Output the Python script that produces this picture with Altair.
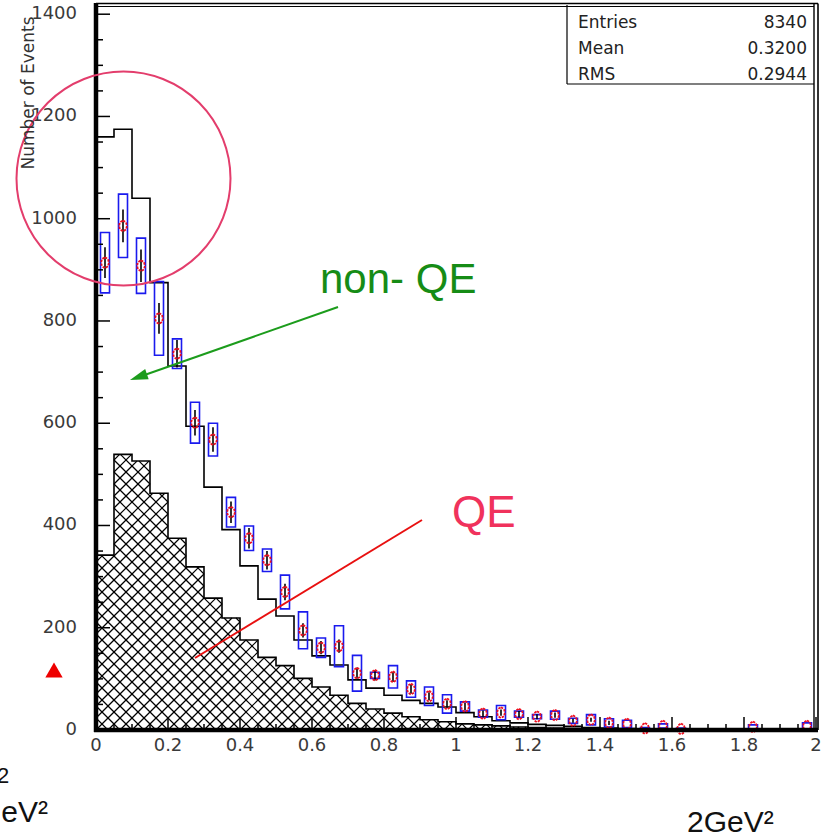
import altair as alt
import numpy as np
import pandas as pd

# ---------------------------------------------------------------------------
# Q^2 distribution, 40 bins of 0.05 GeV^2 between 0 and 2 GeV^2
# ---------------------------------------------------------------------------
BIN_W = 0.05
N_BINS = 40
edges = [round(BIN_W * k, 3) for k in range(N_BINS + 1)]
centers = [round(BIN_W * (k + 0.5), 3) for k in range(N_BINS)]

# Monte Carlo, all interactions (open black histogram)
mc_total = [1160, 1175, 1040, 875, 712, 594, 475, 392, 321, 256,
            223, 176, 145, 127, 98, 82, 68, 58, 52, 45,
            34, 26, 18, 14, 11, 9, 7, 5, 4, 3,
            2, 2, 1, 1, 1, 1, 0, 0, 0, 0]

# Monte Carlo, quasi-elastic part (hatched histogram)
mc_qe = [342, 539, 526, 463, 375, 319, 258, 219, 176, 142,
         126, 101, 84, 68, 52, 41, 33, 26, 20, 16,
         12, 10, 8, 6, 5, 4, 3, 2, 2, 1,
         1, 1, 0, 0, 0, 0, 0, 0, 0, 0]

# Measured events, statistical and systematic half-widths
data_val = [914, 986, 908, 805, 736, 601, 568, 426, 375, 332,
            270, 195, 161, 164, 111, 107, 104, 80, 66, 51,
            46, 32, 34, 31, 26, 29, 18, 20, 14, 12,
            3, 8, 2, 0, 0, 0, 6, 0, 0, 8]
data_stat = [30, 32, 32, 30, 27, 25, 24, 21, 20, 18,
             16, 14, 13, 13, 11, 10, 10, 9, 8, 7,
             7, 6, 6, 6, 5, 5, 4, 4, 4, 0,
             0, 0, 0, 0, 0, 0, 0, 0, 0, 0]
data_syst = [59, 62, 54, 72, 29, 40, 32, 29, 24, 22,
             33, 36, 19, 40, 35, 6, 22, 16, 18, 18,
             9, 7, 14, 6, 4, 8, 5, 10, 8, 7,
             2, 4, 2, 0, 0, 0, 4, 0, 0, 6]

# Statistics box
stat_names = ["Entries", "Mean", "RMS"]
stat_values = ["8340", "0.3200", "0.2944"]

# Axis tick values
x_major = [round(0.2 * k, 1) for k in range(11)]
x_minor = [round(0.05 * k, 2) for k in range(41) if k % 4]
y_major = list(range(0, 1401, 200))
y_minor = [v for v in range(0, 1401, 50) if v % 200]

# ---------------------------------------------------------------------------
# Frame geometry
# ---------------------------------------------------------------------------
W, H = 720, 725
X_MAX, Y_MAX = 2.0, 1418
PX, PY = W / X_MAX, H / Y_MAX

xs = alt.Scale(domain=[0, X_MAX], nice=False, zero=False)
ys = alt.Scale(domain=[0, Y_MAX], nice=False, zero=False)

LABEL_FONT = "DejaVu Sans"
TEXT_FONT = "Liberation Sans"
LABEL_COLOR = "#3a3a3a"
ONE = pd.DataFrame({"i": [0]})


def step_frame(values):
    return pd.DataFrame({"x": edges, "y": list(values) + [values[-1]]})


def hatch_segments(values, spacing=12.0):
    """Cross-hatch (45 deg both ways) clipped to each filled bin."""
    rows = []
    for k, v in enumerate(values):
        if v <= 0:
            continue
        x0, x1, h = edges[k] * PX, edges[k + 1] * PX, v * PY
        j0 = int(np.floor((x0 - h) / spacing)) - 1
        j1 = int(np.ceil((x1 + h) / spacing)) + 1
        for j in range(j0, j1 + 1):
            c = j * spacing
            lo, hi = max(x0, c), min(x1, c + h)          # rising: y = x - c
            if hi - lo > 1e-6:
                rows.append((lo / PX, (lo - c) / PY, hi / PX, (hi - c) / PY))
            lo, hi = max(x0, c - h), min(x1, c)          # falling: y = c - x
            if hi - lo > 1e-6:
                rows.append((lo / PX, (c - lo) / PY, hi / PX, (c - hi) / PY))
    return pd.DataFrame(rows, columns=["x", "y", "x2", "y2"])


def text(label, px, py, size, color, font=TEXT_FONT, align="left",
         baseline="alphabetic", angle=0):
    return alt.Chart(ONE).mark_text(
        text=label, align=align, baseline=baseline, fontSize=size,
        font=font, color=color, angle=angle,
    ).encode(x=alt.value(px), y=alt.value(py))


def seg(x1, y1, x2, y2, color="black", width=1.5):
    return alt.Chart(ONE).mark_rule(color=color, strokeWidth=width).encode(
        x=alt.value(x1), y=alt.value(y1), x2=alt.value(x2), y2=alt.value(y2))


# ---------------------------------------------------------------------------
# Histograms
# ---------------------------------------------------------------------------
hatch = alt.Chart(hatch_segments(mc_qe)).mark_rule(
    color="black", strokeWidth=1.15
).encode(
    x=alt.X("x:Q", scale=xs, axis=None), y=alt.Y("y:Q", scale=ys, axis=None),
    x2="x2:Q", y2="y2:Q",
)

qe_line = alt.Chart(step_frame(mc_qe)).mark_line(
    interpolate="step-after", color="black", strokeWidth=1.6
).encode(x=alt.X("x:Q", scale=xs, axis=None), y=alt.Y("y:Q", scale=ys, axis=None))

mc_line = alt.Chart(step_frame(mc_total)).mark_line(
    interpolate="step-after", color="black", strokeWidth=1.6
).encode(x=alt.X("x:Q", scale=xs, axis=None), y=alt.Y("y:Q", scale=ys, axis=None))

# ---------------------------------------------------------------------------
# Data points: systematic boxes, statistical bars, markers
# ---------------------------------------------------------------------------
pts = pd.DataFrame({"x": centers, "val": data_val,
                    "stat": data_stat, "syst": data_syst})
pts["bx0"] = pts["x"] - 0.0125
pts["bx1"] = pts["x"] + 0.0125
pts["by0"] = pts["val"] - pts["syst"]
pts["by1"] = pts["val"] + pts["syst"]
pts["ey0"] = pts["val"] - pts["stat"]
pts["ey1"] = pts["val"] + pts["stat"]

boxes = alt.Chart(pts[pts["syst"] > 0]).mark_rect(
    fillOpacity=0, stroke="#1a1aee", strokeWidth=1.6
).encode(
    x=alt.X("bx0:Q", scale=xs, axis=None), x2="bx1:Q",
    y=alt.Y("by0:Q", scale=ys, axis=None), y2="by1:Q",
)

stat_bars = alt.Chart(pts[pts["stat"] > 0]).mark_rule(
    color="black", strokeWidth=1.6
).encode(
    x=alt.X("x:Q", scale=xs, axis=None),
    y=alt.Y("ey0:Q", scale=ys, axis=None), y2="ey1:Q",
)

markers = alt.Chart(pts[pts["val"] > 0]).mark_point(
    shape="M0,-1L0.55,-0.65L0.72,0L0.55,0.65L0,1L-0.55,0.65L-0.72,0L-0.55,-0.65Z",
    size=120, filled=False, stroke="#ee1020", strokeWidth=1.8,
    strokeDash=[2.5, 1.2], opacity=1,
).encode(x=alt.X("x:Q", scale=xs, axis=None),
         y=alt.Y("val:Q", scale=ys, axis=None))

# ---------------------------------------------------------------------------
# Ticks drawn inside the frame, with their labels
# ---------------------------------------------------------------------------
def y_ticks(values, length):
    return alt.Chart(pd.DataFrame({"v": values})).mark_rule(
        color="black", strokeWidth=1.5
    ).encode(y=alt.Y("v:Q", scale=ys, axis=None),
             x=alt.value(0), x2=alt.value(length))


def x_ticks(values, length):
    return alt.Chart(pd.DataFrame({"v": values})).mark_rule(
        color="black", strokeWidth=1.5
    ).encode(x=alt.X("v:Q", scale=xs, axis=None),
             y=alt.value(H), y2=alt.value(H - length))


ticks = [y_ticks(y_major, 14), y_ticks(y_minor, 7),
         x_ticks(x_major, 13), x_ticks(x_minor, 6)]

x_labels = alt.Chart(pd.DataFrame({
    "v": x_major, "t": [f"{v:g}" for v in x_major]})).mark_text(
    align="center", baseline="top", font=LABEL_FONT, fontSize=18,
    color=LABEL_COLOR,
).encode(x=alt.X("v:Q", scale=xs, axis=None), y=alt.value(H + 7), text="t:N")

y_labels = alt.Chart(pd.DataFrame({
    "v": y_major, "t": [str(v) for v in y_major]})).mark_text(
    align="right", baseline="middle", font=LABEL_FONT, fontSize=18,
    color=LABEL_COLOR,
).encode(y=alt.Y("v:Q", scale=ys, axis=None), x=alt.value(-19), text="t:N")

# Frame: heavy axes left/bottom, double line top/right, statistics box
frame = [
    seg(0, -2, 0, H + 2, width=4.5),
    seg(-2, H, W + 2, H, width=4.5),
    seg(0, -1.5, W + 2, -1.5, width=1.6),
    seg(0, 1.5, W - 2, 1.5, width=1.2),
    seg(W - 2, -1.5, W - 2, H, width=1.4),
    seg(W + 2, -1.5, W + 2, H, width=1.6),
    seg(471, 0, 471, 79, width=1.2),
    seg(471, 79, W - 2, 79, width=1.2),
]

stats = []
for name, val, py in zip(stat_names, stat_values, [23, 49, 75]):
    stats.append(text(name, 482, py, 17, "#222222", font=LABEL_FONT))
    stats.append(text(val, 711, py, 17, "#222222", font=LABEL_FONT, align="right"))

# ---------------------------------------------------------------------------
# Annotations
# ---------------------------------------------------------------------------
ring = alt.Chart(ONE).mark_point(
    shape="circle", size=214 ** 2, filled=False, stroke="#e33d6c",
    strokeWidth=2, opacity=1,
).encode(x=alt.value(27.5), y=alt.value(173.5))

arrow_head = alt.Chart(ONE).mark_point(
    shape="M0,0L-0.6,2L0.6,2Z", size=320, filled=True, color="#1c9c1c",
    angle=251, opacity=1,
).encode(x=alt.value(34), y=alt.value(375))

marker_tri = alt.Chart(ONE).mark_point(
    shape="triangle-up", size=300, filled=True, color="#ee0000", opacity=1,
).encode(x=alt.value(-42), y=alt.value(665))

notes = [
    ring,
    seg(242, 302, 40, 373, color="#1c9c1c", width=2),
    arrow_head,
    text("non- QE", 224, 288, 42, "#168c16"),
    seg(326, 515, 99, 653, color="#e81010", width=2),
    text("QE", 356, 522, 44, "#f0325c"),
    marker_tri,
    text("Number of Events", -67, 88, 17, "#333333", font=LABEL_FONT,
         align="center", baseline="middle", angle=270),
    text("2", -99, 778, 22, "#111111"),
    text("GeV²", -48, 817, 30, "#111111", align="right"),
    text("2GeV²", 591, 827, 30, "#111111"),
]

chart = alt.layer(
    hatch, qe_line, mc_line, boxes, stat_bars, markers,
    *ticks, x_labels, y_labels, *frame, *stats, *notes,
).properties(
    width=W, height=H,
    autosize=alt.AutoSizeParams(type="none"),
    padding={"left": 96, "top": 5, "right": 16, "bottom": 107},
    background="white",
).configure_view(stroke=None)

chart.save("out.html", embed_options={"renderer": "svg", "actions": False})
